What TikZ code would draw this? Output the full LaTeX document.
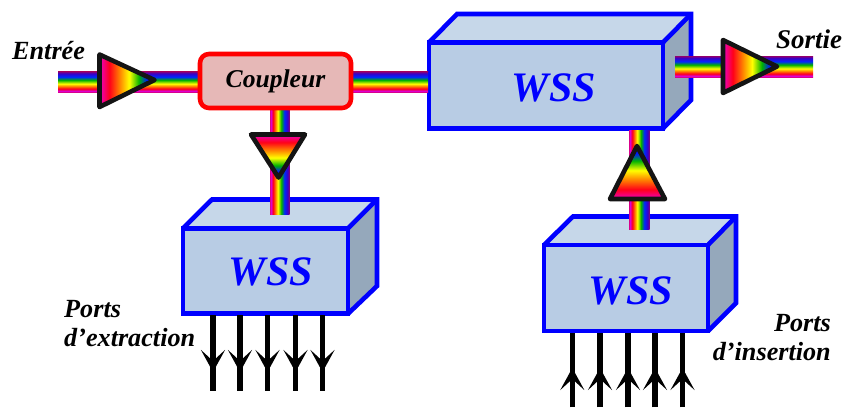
\documentclass[tikz,border=0pt]{standalone}
\usepackage{fontspec}
\setmainfont{Liberation Serif}
\usetikzlibrary{arrows.meta}
\definecolor{wssfront}{HTML}{B8CCE4}
\definecolor{wsstop}{HTML}{C6D7E9}
\definecolor{wssside}{HTML}{95A8BB}
\definecolor{cplfill}{HTML}{E6B8B7}
\pgfdeclarehorizontalshading{bandshade}{100bp}{
  color(0bp)=(purple!60!magenta);color(25bp)=(purple!60!magenta);color(27bp)=(magenta!85!red!85!blue);
  color(33bp)=(red!90!magenta);color(39bp)=(red!50!yellow);color(45bp)=(yellow);
  color(54bp)=(green!70!black);color(62bp)=(blue!85!cyan);color(70bp)=(blue!70!purple);
  color(75bp)=(violet!70!purple);color(100bp)=(violet!70!purple)}
\pgfdeclarehorizontalshading{ampshade}{100bp}{
  color(0bp)=(magenta!70!purple);color(25bp)=(magenta!70!purple);color(34bp)=(red!90!magenta);
  color(43bp)=(red!50!yellow);color(52bp)=(yellow);color(61bp)=(green!70!black);
  color(68bp)=(blue!90!cyan);color(75bp)=(blue);color(100bp)=(blue)}
\tikzset{
  x=1pt,y=-1pt,
  front/.style={draw=blue,fill=wssfront,line width=4.6pt,line join=miter,outer sep=0pt,inner sep=0pt},
  edgeline/.style={draw=blue,line width=4.6pt,line join=miter},
  wsslabel/.style={text=blue,font=\fontsize{42}{46}\selectfont\bfseries\itshape,inner sep=0pt},
  blabel/.style={text=black,font=\fontsize{26.2}{30}\selectfont\bfseries\itshape,inner sep=0pt},
  bandH/.style={shade,shading=bandshade,shading angle=90},
  bandV/.style={shade,shading=bandshade,shading angle=0},
  amp/.style={draw=black!92,line width=4.6pt,line join=round,shade,shading=ampshade},
  port/.style={draw=black,line width=5.5pt},
  porthead/.style={draw=black,line width=5.5pt,-{Stealth[length=22pt,width=24pt,inset=11pt]}},
}
% #1 name, #2 centre x, #3 centre y, #4 width, #5 height, #6 back-left x, #7 back-right x, #8 back top y, #9 side bottom y
\newcommand{\wssbox}[9]{
  \node[front,minimum width=#4pt,minimum height=#5pt] (#1) at (#2,#3) {};
  \fill[wsstop] (#1.north west) -- (#6,#8) -- (#7,#8) -- (#1.north east) -- cycle;
  \fill[wssside] (#1.north east) -- (#7,#8) -- (#7,#9) -- (#1.south east) -- cycle;
  \draw[edgeline] (#1.north west) -- (#6,#8) -- (#7,#8) -- (#7,#9) -- (#1.south east);
  \draw[edgeline,shorten >=2pt] (#1.north east) -- (#7,#8);
  \draw[edgeline] (#1.south west) rectangle (#1.north east);
}
\begin{document}
\begin{tikzpicture}
\useasboundingbox (0,0) rectangle (845,407);
% --- named points
\coordinate (h1a) at (58,71.5);   \coordinate (h1b) at (205,92);
\coordinate (h2a) at (346,71.5);  \coordinate (h2b) at (428,92);
\coordinate (h3a) at (675,56);    \coordinate (h3b) at (813,77);
\coordinate (v1a) at (270,105);   \coordinate (v1b) at (289.5,214);
\coordinate (v2a) at (629,130);   \coordinate (v2b) at (649.7,229);
% --- boxes
\wssbox{wssM}{546}{85.5}{234}{86}{457}{691}{14}{100}
\wssbox{wssE}{265.5}{271}{165}{85.5}{212}{377}{199.5}{286}
\wssbox{wssI}{626}{288}{164}{86}{573}{736}{216.5}{303}
% --- rainbow connectors
\path[bandH] (h1a) rectangle (h1b);
\path[bandH] (h2a) rectangle (h2b);
\path[bandH] (h3a) rectangle (h3b);
\path[bandV] (v1a) rectangle (v1b);
\path[bandV] (v2a) rectangle (v2b);
% --- coupler
\node[draw=red,fill=cplfill,line width=4.6pt,rounded corners=9pt,minimum width=151pt,minimum height=54pt,inner sep=0pt,outer sep=0pt] (cpl) at (275.5,81) {};
\node[blabel,font=\fontsize{25.6}{30}\selectfont\bfseries\itshape] (cpltxt) at (275.5,81.5) {Coupleur};
% --- amplifiers
\path[amp,shading angle=0] (99.5,54.5) -- (154.5,80) -- (99.5,107) -- cycle;
\path[amp,shading angle=270] (251,134.5) -- (305,134.5) -- (278.5,177.5) -- cycle;
\path[amp,shading angle=0] (723,40) -- (777,66.5) -- (723,93) -- cycle;
\path[amp,shading angle=90] (610,199) -- (665,199) -- (637,146) -- cycle;
% --- box labels
\node[wsslabel] (tM) at (554,88) {WSS};
\node[wsslabel] (tE) at (271,272) {WSS};
\node[wsslabel] (tI) at (631,291) {WSS};
% --- text labels
\node[blabel,anchor=west] (entree) at (12,51) {Entrée};
\node[blabel,anchor=west,font=\fontsize{27}{30}\selectfont\bfseries\itshape] (sortie) at (776,39) {Sortie};
\node[blabel,anchor=west] (pe1) at (64,309) {Ports};
\node[blabel,anchor=west] (pe2) at (64,338) {d’extraction};
\node[blabel,anchor=east] (pi1) at (831,323) {Ports};
\node[blabel,anchor=east] (pi2) at (831,352) {d’insertion};
% --- extraction ports
\foreach \x in {213,240,267.5,295.5,322.5}{
  \coordinate (a) at (\x,315); \coordinate (m) at (\x,372); \coordinate (b) at (\x,391);
  \path[port] (a) -- (b);
  \path[porthead] (a) -- (m);
}
% --- insertion ports
\foreach \x in {572.3,600,628,655,682.5}{
  \coordinate (a) at (\x,407); \coordinate (m) at (\x,368); \coordinate (b) at (\x,333);
  \path[port] (a) -- (b);
  \path[porthead] (a) -- (m);
}
\end{tikzpicture}
\end{document}
